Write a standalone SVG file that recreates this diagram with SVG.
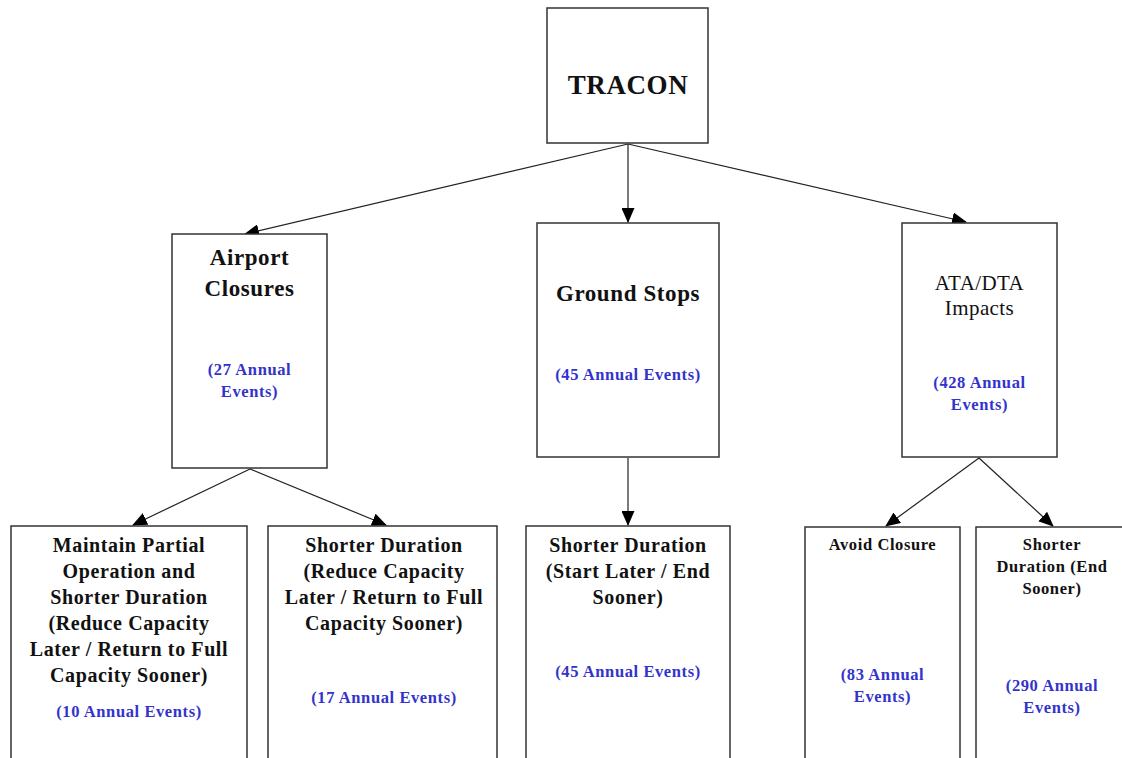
<svg xmlns="http://www.w3.org/2000/svg" width="1122" height="758" viewBox="0 0 1122 758">
<style>
.box{fill:#fff;stroke:#333;stroke-width:1.5}
.t{font-family:"Liberation Serif","Times New Roman",serif;font-weight:bold;fill:#111;text-anchor:middle;letter-spacing:0.6px}
.r{font-family:"Liberation Serif","Times New Roman",serif;font-weight:normal;fill:#111;text-anchor:middle;letter-spacing:0.4px}
.b{font-family:"Liberation Serif","Times New Roman",serif;font-weight:bold;fill:#3333cc;text-anchor:middle;letter-spacing:0.6px}
.c{stroke:#222;stroke-width:1.2;fill:none;marker-end:url(#ah)}
</style>
<defs>
<marker id="ah" markerUnits="userSpaceOnUse" markerWidth="15" markerHeight="13" refX="14" refY="6.5" orient="auto">
<path d="M0,0 L15,6.5 L0,13 Z" fill="#000"/>
</marker>
</defs>
<rect width="1122" height="758" fill="#fff"/>
<g id="connectors">
<line class="c" x1="628" y1="144" x2="245" y2="234"/>
<line class="c" x1="628" y1="144" x2="628" y2="222"/>
<line class="c" x1="628" y1="144" x2="966" y2="222"/>
<line class="c" x1="250" y1="469" x2="133" y2="525"/>
<line class="c" x1="250" y1="469" x2="386" y2="525"/>
<line class="c" x1="628" y1="458" x2="628" y2="525"/>
<line class="c" x1="979" y1="458" x2="886" y2="526"/>
<line class="c" x1="979" y1="458" x2="1053" y2="526"/>
</g>
<g id="tracon">
<rect class="box" x="547" y="8" width="161" height="135"/>
<text class="t" x="628" y="94" font-size="27">TRACON</text>
</g>
<g id="airport-closures">
<rect class="box" x="172" y="234" width="155" height="234"/>
<text class="t" x="249.5" y="265" font-size="23">Airport</text>
<text class="t" x="249.5" y="296" font-size="23">Closures</text>
<text class="b" x="249.5" y="375" font-size="16.5">(27 Annual</text>
<text class="b" x="249.5" y="397" font-size="16.5">Events)</text>
</g>
<g id="ground-stops">
<rect class="box" x="537" y="223" width="182" height="234"/>
<text class="t" x="628" y="301" font-size="23">Ground Stops</text>
<text class="b" x="628" y="380" font-size="16.5">(45 Annual Events)</text>
</g>
<g id="ata-dta">
<rect class="box" x="902" y="223" width="155" height="234"/>
<text class="r" x="979.5" y="290" font-size="21">ATA/DTA</text>
<text class="r" x="979.5" y="315" font-size="21">Impacts</text>
<text class="b" x="979.5" y="388" font-size="16.5">(428 Annual</text>
<text class="b" x="979.5" y="410" font-size="16.5">Events)</text>
</g>
<g id="maintain-partial">
<rect class="box" x="11" y="526" width="236" height="250"/>
<text class="t" x="129" y="552" font-size="20">Maintain Partial</text>
<text class="t" x="129" y="578" font-size="20">Operation and</text>
<text class="t" x="129" y="604" font-size="20">Shorter Duration</text>
<text class="t" x="129" y="630" font-size="20">(Reduce Capacity</text>
<text class="t" x="129" y="656" font-size="20">Later / Return to Full</text>
<text class="t" x="129" y="682" font-size="20">Capacity Sooner)</text>
<text class="b" x="129" y="717" font-size="16.5">(10 Annual Events)</text>
</g>
<g id="shorter-duration-ac">
<rect class="box" x="268" y="526" width="229" height="250"/>
<text class="t" x="384" y="552" font-size="20">Shorter Duration</text>
<text class="t" x="384" y="578" font-size="20">(Reduce Capacity</text>
<text class="t" x="384" y="604" font-size="20">Later / Return to Full</text>
<text class="t" x="384" y="630" font-size="20">Capacity Sooner)</text>
<text class="b" x="384" y="703" font-size="16.5">(17 Annual Events)</text>
</g>
<g id="shorter-duration-gs">
<rect class="box" x="526" y="526" width="204" height="250"/>
<text class="t" x="628" y="552" font-size="20">Shorter Duration</text>
<text class="t" x="628" y="578" font-size="20">(Start Later / End</text>
<text class="t" x="628" y="604" font-size="20">Sooner)</text>
<text class="b" x="628" y="677" font-size="16.5">(45 Annual Events)</text>
</g>
<g id="avoid-closure">
<rect class="box" x="805" y="527" width="155" height="250"/>
<text class="t" x="882.5" y="550" font-size="16.5">Avoid Closure</text>
<text class="b" x="882.5" y="680" font-size="16.5">(83 Annual</text>
<text class="b" x="882.5" y="702" font-size="16.5">Events)</text>
</g>
<g id="shorter-duration-ata">
<rect class="box" x="976" y="527" width="160" height="250"/>
<text class="t" x="1052" y="550" font-size="16.5">Shorter</text>
<text class="t" x="1052" y="572" font-size="16.5">Duration (End</text>
<text class="t" x="1052" y="594" font-size="16.5">Sooner)</text>
<text class="b" x="1052" y="691" font-size="16.5">(290 Annual</text>
<text class="b" x="1052" y="713" font-size="16.5">Events)</text>
</g>
</svg>
